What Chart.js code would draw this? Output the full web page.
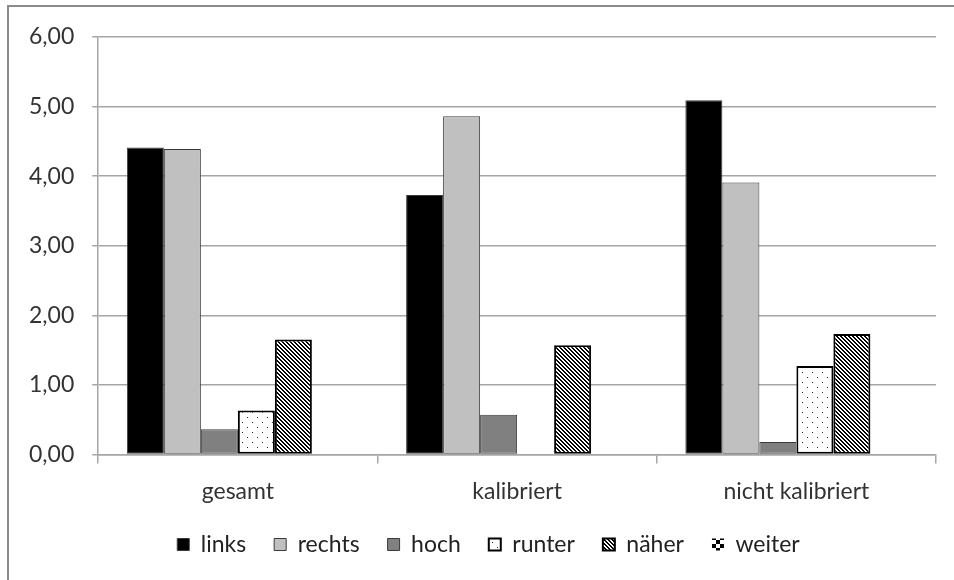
<!DOCTYPE html>
<html>
<head>
<meta charset="utf-8">
<script src="https://cdn.jsdelivr.net/npm/chart.js@4"></script>
<style>
  html, body { margin: 0; padding: 0; background: #fff; overflow: hidden; }
  #wrap { position: relative; width: 954px; height: 580px; }
  #c { position: absolute; left: 0; top: 0; }
  #frame { position: absolute; left: 7px; top: 5px; width: 1000px; height: 1000px;
           border: 2px solid #8c8c8c; pointer-events: none; }
</style>
</head>
<body>
<div id="wrap">
  <canvas id="c" width="954" height="580"></canvas>
  <div id="frame"></div>
</div>
<script>
// Categories and mean values per movement direction
const categories = ['gesamt', 'kalibriert', 'nicht kalibriert'];
const links  = [4.41, 3.73, 5.09];
const rechts = [4.39, 4.86, 3.91];
const hoch   = [0.36, 0.57, 0.18];
const runter = [0.63, 0.00, 1.27];
const naeher = [1.65, 1.57, 1.73];
const weiter = [0.00, 0.00, 0.00];
const yTicks = [0, 1, 2, 3, 4, 5, 6];

// Fill patterns
function makeTile(size, paint) {
  const t = document.createElement('canvas');
  t.width = size; t.height = size;
  const g = t.getContext('2d');
  g.fillStyle = '#fff';
  g.fillRect(0, 0, size, size);
  paint(g);
  return document.createElement('canvas').getContext('2d').createPattern(t, 'repeat');
}
// sparse staggered dots
const dotPattern = makeTile(10, g => {
  g.fillStyle = '#222';
  g.fillRect(2, 2, 1, 1);
  g.fillRect(7, 7, 1, 1);
});
// dense downward diagonal stripes
const hatchPattern = makeTile(4, g => {
  g.fillStyle = '#000';
  for (let y = 0; y < 4; y++) {
    for (let x = 0; x < 4; x++) {
      const d = ((x - y) % 4 + 4) % 4;
      if (d === 0 || d === 1) g.fillRect(x, y, 1, 1);
    }
  }
});
// large checker
const checkerPattern = makeTile(8, g => {
  g.fillStyle = '#000';
  g.fillRect(0, 0, 4, 4);
  g.fillRect(4, 4, 4, 4);
});

const FONT = 'Lato';
const fmt = v => v.toFixed(2).replace('.', ',');

// nudge the legend row after layout so it sits a little right of centre
const legendOffset = {
  id: 'legendOffset',
  afterLayout(chart) {
    const l = chart.legend;
    if (!l) return;
    const dx = 15, dy = -14;
    l.left += dx; l.right += dx;
    l.top += dy; l.bottom += dy;
  }
};

new Chart(document.getElementById('c'), {
  type: 'bar',
  data: {
    labels: categories,
    datasets: [
      { label: 'links',  data: links,  backgroundColor: '#000000', borderColor: '#3a3a3a', borderWidth: 1 },
      { label: 'rechts', data: rechts, backgroundColor: '#c0c0c0', borderColor: '#3a3a3a', borderWidth: 1 },
      { label: 'hoch',   data: hoch,   backgroundColor: '#808080', borderColor: '#3a3a3a', borderWidth: 1 },
      { label: 'runter', data: runter, backgroundColor: dotPattern, borderColor: '#000', borderWidth: 2 },
      { label: 'näher',  data: naeher, backgroundColor: hatchPattern, borderColor: '#000', borderWidth: 2 },
      { label: 'weiter', data: weiter, backgroundColor: checkerPattern, borderColor: '#000', borderWidth: 0 }
    ]
  },
  plugins: [legendOffset],
  options: {
    responsive: false,
    animation: false,
    devicePixelRatio: 1,
    layout: { padding: { left: 11, right: 18, top: 37, bottom: 0 } },
    datasets: {
      bar: { barPercentage: 1.0, categoryPercentage: 0.795, borderSkipped: false }
    },
    scales: {
      x: {
        grid: { display: true, drawOnChartArea: false, drawTicks: true, tickLength: 9,
                color: '#a6a6a6', lineWidth: 1.5 },
        border: { display: true, color: '#a6a6a6', width: 1.5 },
        ticks: { color: '#333', font: { family: FONT, size: 23 }, padding: 14 }
      },
      y: {
        min: 0, max: 6,
        afterBuildTicks: s => { s.ticks = yTicks.map(v => ({ value: v })); },
        grid: { color: '#a6a6a6', lineWidth: 1.5, drawTicks: true, tickLength: 6 },
        border: { display: true, color: '#a6a6a6', width: 1.5 },
        ticks: { color: '#333', font: { family: FONT, size: 23 }, padding: 18,
                 callback: v => fmt(v) }
      }
    },
    plugins: {
      legend: {
        position: 'bottom',
        labels: { color: '#222', font: { family: FONT, size: 23 },
                  boxWidth: 12, boxHeight: 12, padding: 28 }
      },
      tooltip: { enabled: false }
    }
  }
});
</script>
</body>
</html>
